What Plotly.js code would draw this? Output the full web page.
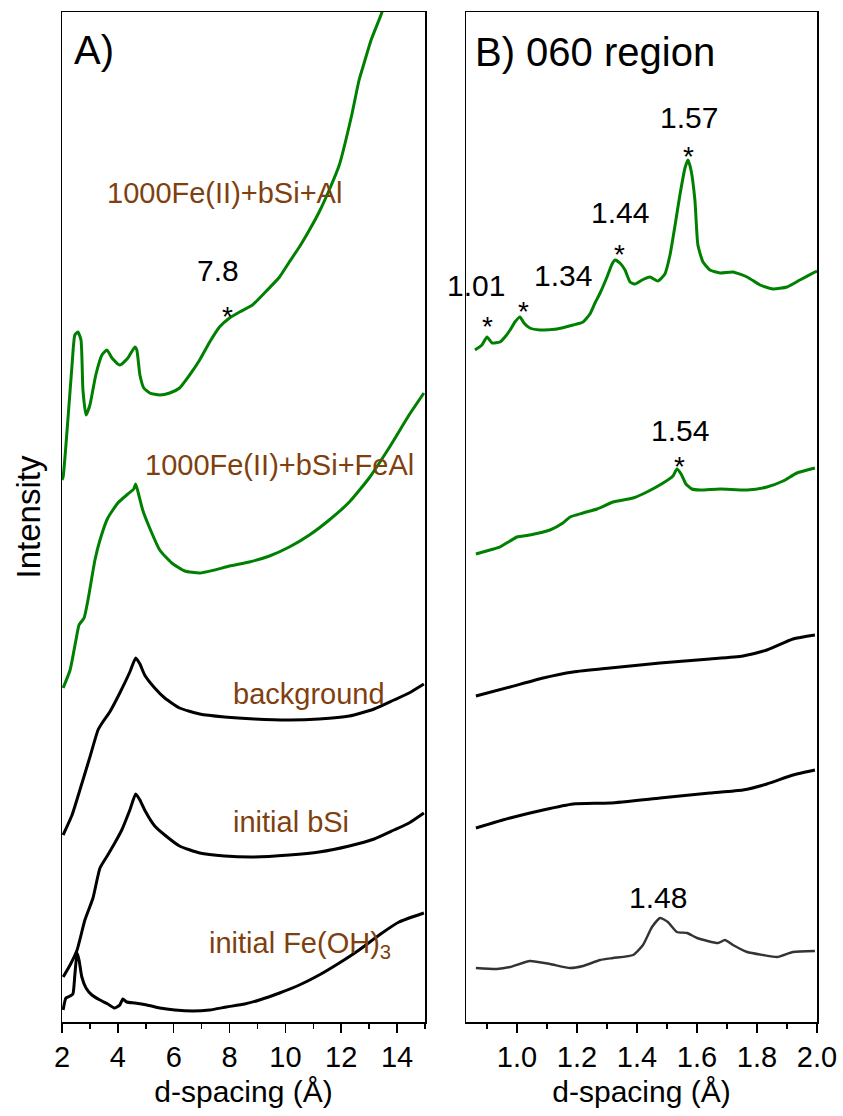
<!DOCTYPE html>
<html>
<head>
<meta charset="utf-8">
<script src="https://cdn.plot.ly/plotly-3.0.1.min.js"></script>
<style>html,body{margin:0;padding:0;background:#fff;}#plot{width:843px;height:1116px;}</style>
</head>
<body>
<div id="plot"></div>
<script>
// ---------- Panel A: full pattern (d-spacing, Å) ----------
const aAl_d = [2.00,2.04,2.21,2.36,2.46,2.57,2.68,2.75,2.86,3.00,3.21,3.43,3.61,3.79,4.07,4.36,4.61,4.68,4.79,4.93,5.14,5.50,5.86,6.21,6.57,6.93,7.29,7.64,8.00,8.36,8.82,9.25,9.79,10.14,10.50,10.86,11.21,11.57,11.93,12.36,12.64,12.82,13.07,13.46,13.64];
const aAl_I = [542,545,602,657,687,690,682,632,607,617,647,667,672,664,657,664,675,672,647,634,629,627,629,634,647,662,680,695,704,710,717,729,745,760,775,792,810,832,857,905,942,959,982,1010,1032];

const aFeAl_d = [2.04,2.29,2.50,2.61,2.79,2.93,3.18,3.36,3.64,4.00,4.36,4.57,4.64,4.75,4.89,5.14,5.50,5.93,6.39,6.93,7.46,8.00,8.71,9.43,10.14,10.86,11.57,12.29,13.00,13.71,14.43,14.96];
const aFeAl_I = [334,352,382,397,404,422,462,482,504,519,528,533,538,527,512,494,472,459,451,449,452,456,460,466,475,487,502,520,544,574,607,629];

const aBg_d = [2.04,2.36,2.64,3.00,3.29,3.46,3.71,4.07,4.43,4.64,4.79,4.96,5.32,5.68,6.21,6.93,7.82,8.89,10.14,11.21,12.29,13.18,13.89,14.43,14.96];
const aBg_I = [187,207,232,265,292,300,310,329,350,364,358,347,334,324,314,308,305,303,302,303,306,313,322,329,338];

const aBSi_d = [2.04,2.29,2.54,2.82,3.11,3.36,3.64,3.89,4.14,4.43,4.64,4.79,4.96,5.32,5.68,6.21,6.93,7.82,8.89,10.14,11.21,12.29,13.18,13.89,14.43,14.96];
const aBSi_I = [45,57,72,102,124,154,167,179,192,212,228,222,212,196,187,176,169,166,165,167,170,176,183,192,199,209];

const aFe_d = [2.04,2.14,2.29,2.39,2.46,2.54,2.61,2.71,2.86,3.07,3.36,3.64,3.89,4.07,4.18,4.32,4.61,5.04,5.50,6.04,6.68,7.29,7.89,8.54,9.07,9.79,10.50,11.21,11.93,12.64,13.36,14.07,14.96];
const aFe_I = [12,24,26,28,47,69,62,45,34,27,22,18,14,17,23,20,19,17,14,12,11,12,15,18,22,29,37,47,59,72,87,100,109];

// ---------- Panel B: 060 region ----------
const bAl_d = [0.860,0.883,0.900,0.917,0.943,0.960,0.977,0.993,1.010,1.023,1.043,1.077,1.133,1.187,1.220,1.243,1.260,1.277,1.300,1.317,1.327,1.343,1.360,1.377,1.393,1.417,1.443,1.470,1.493,1.510,1.527,1.543,1.560,1.570,1.580,1.593,1.603,1.620,1.643,1.677,1.720,1.767,1.810,1.853,1.900,1.943,1.993,2.000];
const bAl_I = [672,677,685,679,680,685,692,700,705,699,694,692,693,697,700,708,719,729,745,758,762,759,752,740,738,742,745,741,748,767,797,827,854,862,852,822,777,760,752,749,750,745,737,733,735,742,750,751];

const bFeAl_d = [0.863,0.910,0.943,0.977,1.000,1.043,1.110,1.153,1.177,1.220,1.267,1.320,1.387,1.433,1.487,1.520,1.533,1.547,1.563,1.583,1.610,1.677,1.767,1.833,1.887,1.933,1.993];
const bFeAl_I = [468,472,475,481,485,487,492,499,505,509,513,520,524,530,539,546,553,548,538,533,532,533,532,535,541,549,554];

const bBg_d = [0.863,0.977,1.087,1.187,1.310,1.477,1.643,1.753,1.833,1.920,1.993];
const bBg_I = [326,335,344,350,354,359,363,366,372,383,387];

const bBSi_d = [0.863,0.977,1.087,1.187,1.310,1.477,1.643,1.753,1.833,1.920,1.993];
const bBSi_I = [194,204,212,218,219,224,229,232,238,247,252];

const bFe_d = [0.863,0.933,0.977,1.043,1.110,1.177,1.220,1.277,1.320,1.387,1.420,1.450,1.477,1.503,1.533,1.567,1.600,1.670,1.693,1.720,1.767,1.820,1.867,1.920,1.993];
const bFe_I = [54,53,55,61,58,54,56,62,64,67,77,95,104,100,90,89,84,79,82,77,70,67,65,70,71];

// ---------- Labels ----------
const sampleLabels = ["1000Fe(II)+bSi+Al","1000Fe(II)+bSi+FeAl","background","initial bSi","initial Fe(OH)<sub>3</sub>"];
const sampleLabelPos = [[3.55,829],[4.89,557],[8.07,328],[8.04,200],[7.21,77]];
const peakLabelsA = ["7.8"]; const peakPosA = [[7.57,752]]; const starPosA = [[7.93,706]];
const peakLabelsB = ["1.57","1.44","1.34","1.01","1.54","1.48"];
const peakPosB = [[1.573,904],[1.343,810],[1.153,747],[0.863,737],[1.543,592],[1.47,125]];
const starPosB = [[1.573,866],[1.343,768],[0.900,696],[1.023,711],[1.543,556]];
const xTicksA = [2,4,6,8,10,12,14];
const xTicksB = [1.0,1.2,1.4,1.6,1.8,2.0];

const GREEN = "#008000", BLACK = "#000000", GREY = "#333333", BROWN = "#7f3f0f";

function line(x, y, color, xa, ya, w) {
  return {x: x, y: y, type: "scatter", mode: "lines", xaxis: xa, yaxis: ya,
          line: {color: color, width: w || 3, shape: "spline", smoothing: 0.5}, hoverinfo: "skip", showlegend: false};
}
const data = [
  line(aAl_d, aAl_I, GREEN, "x", "y"),
  line(aFeAl_d, aFeAl_I, GREEN, "x", "y"),
  line(aBg_d, aBg_I, BLACK, "x", "y"),
  line(aBSi_d, aBSi_I, BLACK, "x", "y"),
  line(aFe_d, aFe_I, BLACK, "x", "y"),
  line(bAl_d, bAl_I, GREEN, "x2", "y2"),
  line(bFeAl_d, bFeAl_I, GREEN, "x2", "y2"),
  line(bBg_d, bBg_I, BLACK, "x2", "y2"),
  line(bBSi_d, bBSi_I, BLACK, "x2", "y2"),
  line(bFe_d, bFe_I, GREY, "x2", "y2", 2.4)
];

const TXT = "Liberation Sans, Arial, sans-serif";
const TICK_FONT = {family: TXT, size: 29, color: "#000"};
const TITLE_FONT = {family: TXT, size: 30, color: "#000"};

const annotations = [];
sampleLabels.forEach((t, i) => annotations.push({x: sampleLabelPos[i][0], y: sampleLabelPos[i][1], xref: "x", yref: "y",
  xanchor: "left", text: t, showarrow: false, font: {family: TXT, size: 29, color: BROWN}}));
peakLabelsA.forEach((t, i) => annotations.push({x: peakPosA[i][0], y: peakPosA[i][1], xref: "x", yref: "y",
  text: t, showarrow: false, font: {family: TXT, size: 30, color: "#000"}}));
starPosA.forEach(p => annotations.push({x: p[0], y: p[1], xref: "x", yref: "y", text: "*", showarrow: false,
  font: {family: TXT, size: 28, color: "#000"}}));
peakLabelsB.forEach((t, i) => annotations.push({x: peakPosB[i][0], y: peakPosB[i][1], xref: "x2", yref: "y2",
  text: t, showarrow: false, font: {family: TXT, size: 30, color: "#000"}}));
starPosB.forEach(p => annotations.push({x: p[0], y: p[1], xref: "x2", yref: "y2", text: "*", showarrow: false,
  font: {family: TXT, size: 28, color: "#000"}}));
annotations.push({x: 2.35, y: 972, xref: "x", yref: "y", xanchor: "left", text: "A)", showarrow: false,
  font: {family: TXT, size: 40, color: "#000"}});
annotations.push({x: 0.853, y: 970, xref: "x2", yref: "y2", xanchor: "left", text: "B) 060 region", showarrow: false,
  font: {family: TXT, size: 40, color: "#000"}});

const xCommon = {showgrid: false, zeroline: false, showline: true, linecolor: "#000", linewidth: 1.5, mirror: true,
  ticks: "outside", ticklen: 9, tickwidth: 1.5, tickcolor: "#000", tickfont: TICK_FONT,
  minor: {ticks: "outside", ticklen: 5, tickwidth: 1.5, tickcolor: "#000"}};
const yCommon = {showgrid: false, zeroline: false, showline: true, linecolor: "#000", linewidth: 1.5, mirror: true,
  showticklabels: false, ticks: "", range: [0, 1010]};

const layout = {
  width: 843, height: 1116, margin: {l: 0, r: 0, t: 0, b: 0}, paper_bgcolor: "#fff", plot_bgcolor: "#fff",
  showlegend: false,
  xaxis: Object.assign({}, xCommon, {domain: [62/843, 425/843], range: [2, 15], anchor: "y",
    tickmode: "array", tickvals: xTicksA, ticktext: xTicksA.map(String),
    minor: Object.assign({}, xCommon.minor, {tickmode: "linear", tick0: 3, dtick: 2}),
    title: {text: "d-spacing (Å)", font: TITLE_FONT, standoff: 8}}),
  yaxis: Object.assign({}, yCommon, {domain: [94/1116, 1104/1116], anchor: "x",
    title: {text: "Intensity", font: {family: TXT, size: 33, color: "#000"}, standoff: 10}}),
  xaxis2: Object.assign({}, xCommon, {domain: [466/843, 817/843], range: [0.83, 2.0], anchor: "y2",
    tickmode: "array", tickvals: xTicksB, ticktext: xTicksB.map(v => v.toFixed(1)),
    minor: Object.assign({}, xCommon.minor, {tickmode: "linear", tick0: 0.9, dtick: 0.2}),
    title: {text: "d-spacing (Å)", font: TITLE_FONT, standoff: 8}}),
  yaxis2: Object.assign({}, yCommon, {domain: [94/1116, 1104/1116], anchor: "x2"}),
  annotations: annotations
};
Plotly.newPlot("plot", data, layout, {staticPlot: true, displayModeBar: false});
</script>
</body>
</html>
